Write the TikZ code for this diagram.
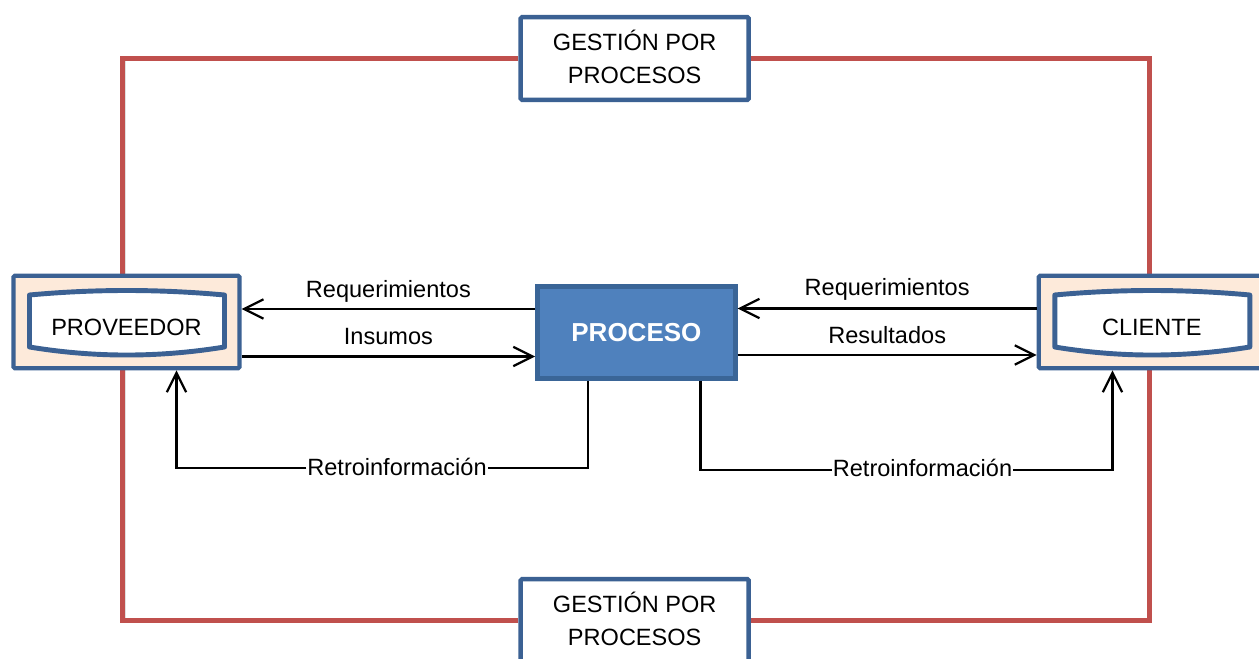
\documentclass[tikz,border=0pt]{standalone}
\usepackage{fontspec}
\setmainfont{Liberation Sans}
\usetikzlibrary{arrows.meta}

\definecolor{frameRed}{HTML}{C0504D}
\definecolor{boxBlue}{HTML}{3B6193}
\definecolor{procFill}{HTML}{4F81BD}
\definecolor{procEdge}{HTML}{3A6597}
\definecolor{peach}{HTML}{FDEADA}

\pgfdeclarelayer{bg}
\pgfsetlayers{bg,main}

\tikzset{
  txt/.style={font=\fontsize{13.4}{18.7}\selectfont},
  gestion/.style={draw=boxBlue, line width=2.55pt, fill=white, rounded corners=0.8pt,
    minimum width=129.8pt, minimum height=47pt, align=center, inner sep=0pt, txt},
  actor/.style={draw=boxBlue, line width=2.45pt, fill=peach, rounded corners=0.8pt,
    minimum width=128.7pt, minimum height=52.7pt, inner sep=0pt},
  actortext/.style={inner sep=0pt, txt},
  proc/.style={draw=procEdge, fill=procFill, line width=2.55pt,
    minimum width=112.8pt, minimum height=52.4pt, text=white,
    font=\fontsize{14.8}{18}\selectfont\bfseries},
  frame/.style={draw=frameRed, line width=2.55pt},
  frameshadow/.style={draw=black, opacity=0.12, line width=3.2pt},
  flow/.style={draw=black, line width=1.25pt},
  tip/.style={-{Straight Barb[length=11pt, width=11pt]}},
  lbl/.style={inner sep=0.4pt, txt},
  tray/.pic={
    \draw[draw=boxBlue, line width=2.8pt, fill=white, line join=round]
      (-97,-27) .. controls (-32,-33) and (32,-33) .. (98,-27)
      -- (98,25) .. controls (32,35.7) and (-32,35.7) .. (-97,25) -- cycle;
  },
}

\begin{document}
\begin{tikzpicture}[x=0.02cm, y=-0.02cm]
  \useasboundingbox (0,0) rectangle (1259,659);

  % main boxes
  \node[gestion] (gtop) at (634.7,58.5) {GESTI\smash{Ó}N POR\\PROCESOS};
  \node[gestion] (gbot) at (634.7,620.5) {GESTI\smash{Ó}N POR\\PROCESOS};

  \node[actor] (prov) at (126.5,322) {};
  \pic at (prov.center) {tray};
  \node[actortext] (provT) at ([yshift=-3.1pt]prov.center) {PROVEEDOR};

  \node[actor] (cli) at (1151.8,322) {};
  \pic at (cli.center) {tray};
  \node[actortext] (cliT) at ([yshift=-3.1pt]cli.center) {CLIENTE};

  \node[proc] (proc) at (636.4,332.7) {PROCESO};

  % outer management frame
  \begin{pgfonlayer}{bg}
    \begin{scope}[shift={(1.5,2.5)}]
      \draw[frameshadow] (gtop.west) -| ([xshift=-2.15pt]prov.north);
      \draw[frameshadow] (gtop.east) -| ([xshift=-1.4pt]cli.north);
      \draw[frameshadow] (gbot.west) -| ([xshift=-2.15pt]prov.south);
      \draw[frameshadow] (gbot.east) -| ([xshift=-1.4pt]cli.south);
    \end{scope}
    \draw[frame] (gtop.west) -| ([xshift=-2.15pt]prov.north);
    \draw[frame] (gtop.east) -| ([xshift=-1.4pt]cli.north);
    \draw[frame] (gbot.west) -| ([xshift=-2.15pt]prov.south);
    \draw[frame] (gbot.east) -| ([xshift=-1.4pt]cli.south);
  \end{pgfonlayer}

  % flow levels
  \coordinate (reqL) at (388,309);
  \coordinate (insL) at (388,356.5);
  \coordinate (reqR) at (887,308.5);
  \coordinate (resR) at (887,355);

  \draw[flow, tip] (proc.west |- reqL) -- (prov.east |- reqL)
    node[lbl, midway, anchor=base, yshift=6.8pt] (lblReqL) {Requerimientos};
  \draw[flow, tip] (prov.east |- insL) -- (proc.west |- insL)
    node[lbl, midway, anchor=base, yshift=6.8pt] (lblIns) {Insumos};
  \draw[flow, tip] (cli.west |- reqR) -- (proc.east |- reqR)
    node[lbl, midway, anchor=base, yshift=7.2pt] (lblReqR) {Requerimientos};
  \draw[flow, tip] (proc.east |- resR) -- (cli.west |- resR)
    node[lbl, midway, anchor=base, yshift=6.4pt] (lblRes) {Resultados};

  % feedback loops
  \node[lbl, anchor=base] (retroL) at (397,475) {Retroinformación};
  \coordinate (rlDown) at (588,468);
  \coordinate (rlUp) at (176.5,468);
  \draw[flow] (proc.south -| rlDown) |- (retroL.east |- rlDown);
  \draw[flow, tip] (retroL.west |- rlDown) -- (rlUp) -- (prov.south -| rlUp);

  \node[lbl, anchor=base] (retroR) at (922.5,476) {Retroinformación};
  \coordinate (rrDown) at (700.5,470);
  \coordinate (rrUp) at (1112.5,470);
  \draw[flow] (proc.south -| rrDown) |- (retroR.west |- rrDown);
  \draw[flow, tip] (retroR.east |- rrDown) -- (rrUp) -- (cli.south -| rrUp);
\end{tikzpicture}
\end{document}
